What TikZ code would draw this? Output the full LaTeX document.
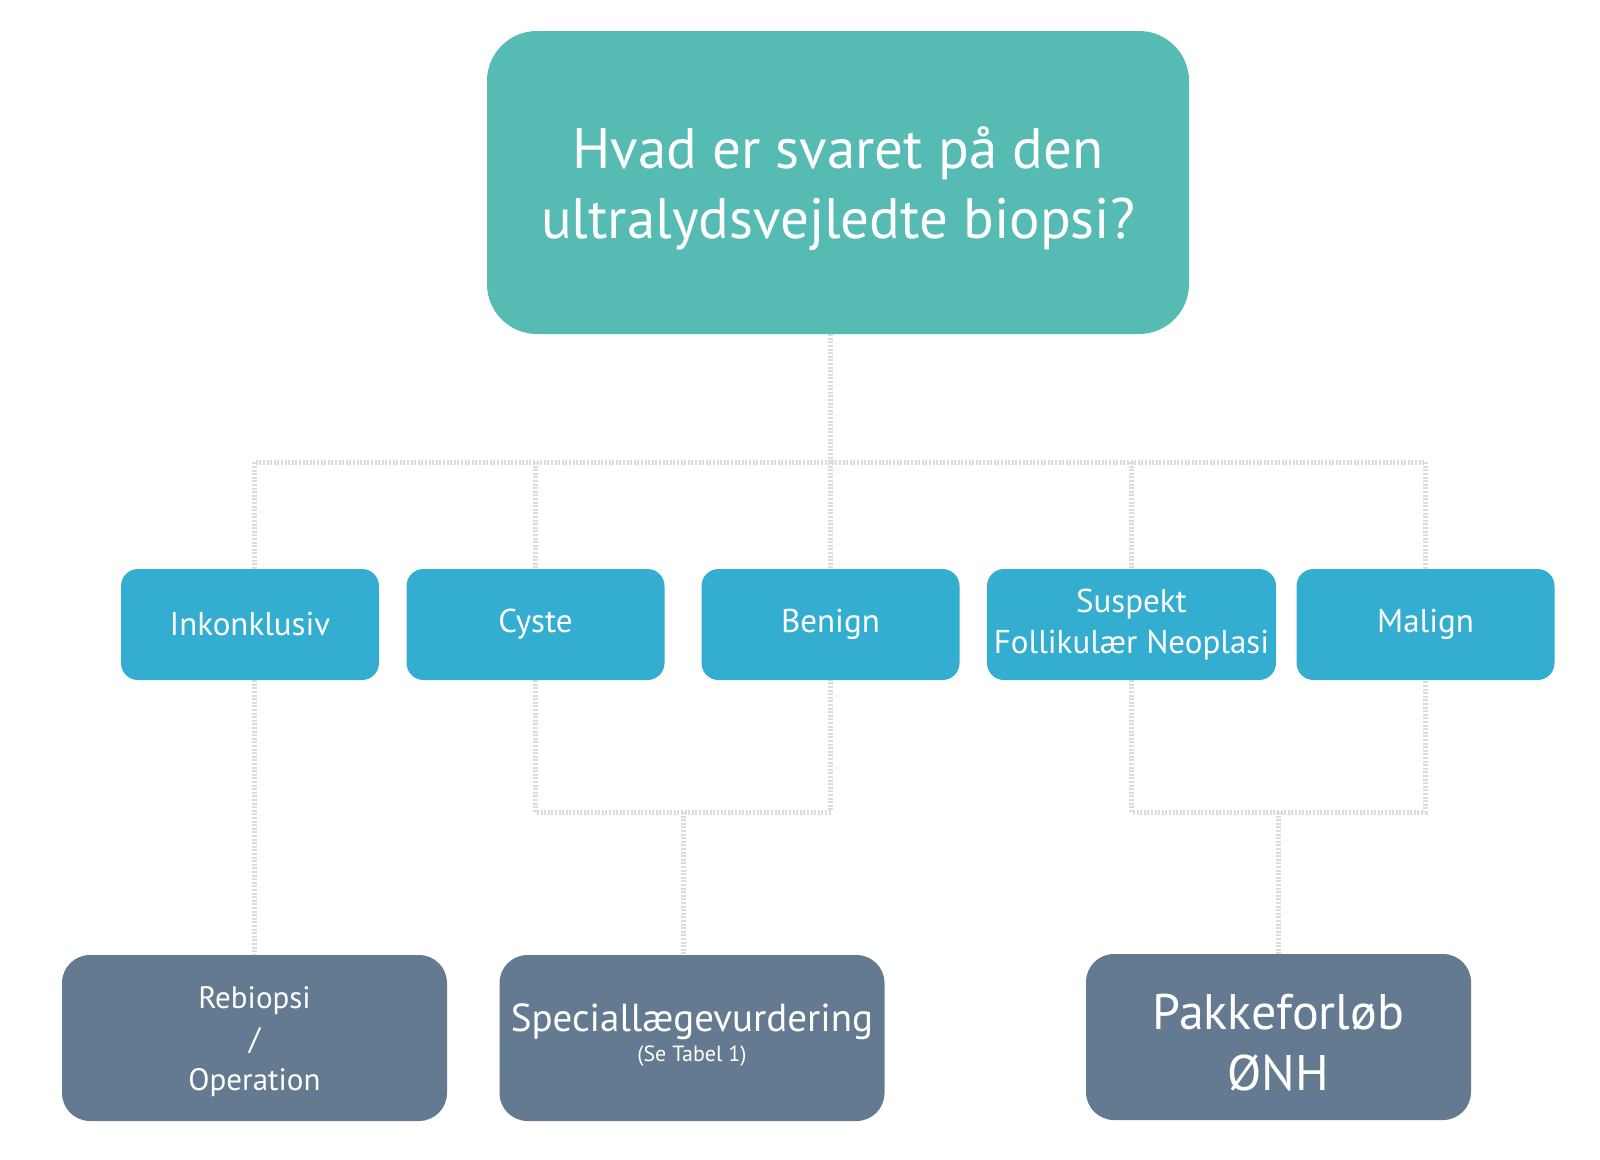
\documentclass[tikz,border=0pt]{standalone}
\usepackage{fontspec}
\setmainfont{PT Sans}
\usetikzlibrary{calc,backgrounds}
\definecolor{topc}{HTML}{55BBB3}
\definecolor{midc}{HTML}{33ADD0}
\definecolor{botc}{HTML}{647A91}
\definecolor{linec}{HTML}{DCDCDC}
\newcommand{\fs}[2]{\fontsize{#1}{#2}\selectfont}
\newcommand{\shifttext}[2]{\raisebox{#1}[\height][\depth]{\begin{tabular}{@{}c@{}}#2\end{tabular}}}
\tikzset{
  topbox/.style={rectangle, rounded corners=50pt, fill=topc, text=white, minimum width=702pt, minimum height=303pt, align=center, inner sep=0pt, font=\fs{57}{70}},
  midbox/.style={rectangle, rounded corners=17pt, fill=midc, text=white, minimum height=111pt, align=center, inner sep=0pt, font=\fs{33}{41}},
  botbox/.style={rectangle, rounded corners=28pt, fill=botc, text=white, minimum width=385pt, minimum height=166pt, align=center, inner sep=0pt},
  conn/.style={draw=linec, line width=5pt, dash pattern=on 2pt off 1.6pt}
}
\begin{document}
\begin{tikzpicture}[x=1pt,y=-1pt]
\useasboundingbox (0,0) rectangle (1600,1159);
\node[topbox] (top) at (838,182.5) {\shifttext{-7pt}{Hvad er svaret på den\\ultralydsvejledte biopsi?}};
\node[midbox, minimum width=258pt] (inkl) at (250,624.5) {Inkonklusiv};
\node[midbox, minimum width=258pt] (cyste) at (535.5,624.5) {Cyste};
\node[midbox, minimum width=258pt] (benign) at (830.5,624.5) {Benign};
\node[midbox, minimum width=289pt] (susp) at (1131.5,624.5) {Suspekt\\Follikulær Neoplasi};
\node[midbox, minimum width=258pt] (malign) at (1425.5,624.5) {Malign};
\node[botbox, font=\fs{31}{41}] (rebi) at (254.5,1038) {\shifttext{-3pt}{Rebiopsi\\/\\Operation}};
\node[botbox, font=\fs{39}{36}] (spec) at (692,1038) {\shifttext{0pt}{Speciallægevurdering\\[-6pt]{\fs{22}{26}(Se Tabel 1)}}};
\node[botbox, font=\fs{50}{61}] (pakke) at (1278.5,1037) {\shifttext{-11pt}{Pakkeforløb\\ØNH}};
\coordinate (bar) at (0,462);
\coordinate (bar2) at (0,812);
\coordinate (m1) at ($(cyste.south)!0.5!(benign.south)$);
\coordinate (m2) at ($(susp.south)!0.5!(malign.south)$);
\begin{scope}[on background layer]
\fill[white] (0,0) rectangle (1600,1159);
\draw[conn] (benign.north |- top.south) -- (benign.north |- bar);
\draw[conn] (rebi.north |- inkl.north) -- (rebi.north |- bar) -- (malign.north |- bar) -- (malign.north);
\draw[conn] (cyste.north |- bar) -- (cyste.north);
\draw[conn] (benign.north |- bar) -- (benign.north);
\draw[conn] (susp.north |- bar) -- (susp.north);
\draw[conn] (rebi.north |- inkl.south) -- (rebi.north);
\draw[conn] (cyste.south) -- (cyste.south |- bar2) -- (benign.south |- bar2) -- (benign.south);
\draw[conn] (m1 |- bar2) -- (m1 |- spec.north);
\draw[conn] (susp.south) -- (susp.south |- bar2) -- (malign.south |- bar2) -- (malign.south);
\draw[conn] (m2 |- bar2) -- (m2 |- pakke.north);
\end{scope}
\end{tikzpicture}
\end{document}
